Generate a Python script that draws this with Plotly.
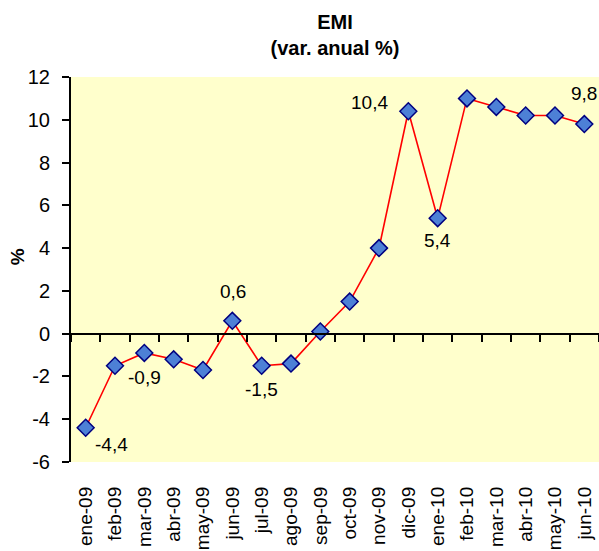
import plotly.graph_objects as go

months = ["ene-09", "feb-09", "mar-09", "abr-09", "may-09", "jun-09", "jul-09",
          "ago-09", "sep-09", "oct-09", "nov-09", "dic-09", "ene-10", "feb-10",
          "mar-10", "abr-10", "may-10", "jun-10"]
emi = [-4.4, -1.5, -0.9, -1.2, -1.7, 0.6, -1.5, -1.4, 0.1, 1.5, 4.0, 10.4,
       5.4, 11.0, 10.6, 10.2, 10.2, 9.8]

y_ticks = [-6, -4, -2, 0, 2, 4, 6, 8, 10, 12]
y_tick_text = ["-6", "-4", "-2", "0", "2", "4", "6", "8", "10", "12"]

# labelled points: (month, value text, xshift, yshift)
label_months = ["ene-09", "mar-09", "jun-09", "jul-09", "dic-09", "ene-10", "jun-10"]
label_texts = ["-4,4", "-0,9", "0,6", "-1,5", "10,4", "5,4", "9,8"]
label_dx = [26, 0, 1, 0, -39, 0, 0]
label_dy = [-17, -25, 29, -24, 9, -22, 31]

FONT = "Arial, Liberation Sans, sans-serif"

fig = go.Figure()

# invisible copy on the zero-line axis so that axis gets its categories
fig.add_trace(go.Scatter(
    x=months, y=emi, xaxis="x2", mode="lines", opacity=0,
    hoverinfo="skip", showlegend=False))

fig.add_trace(go.Scatter(
    x=months, y=emi, mode="lines+markers",
    line=dict(color="#FF0000", width=1.6),
    marker=dict(symbol="diamond", size=13, color="#4D80D6",
                line=dict(color="#000080", width=1.5)),
    showlegend=False, name="EMI"))

annotations = []
for m, t, dx, dy in zip(label_months, label_texts, label_dx, label_dy):
    v = emi[months.index(m)]
    annotations.append(dict(x=m, y=v, xref="x", yref="y", text=t, showarrow=False,
                            xshift=dx, yshift=dy,
                            font=dict(family=FONT, size=19, color="black")))

annotations.append(dict(x=-0.102, y=0.532, xref="paper", yref="paper", text="<b>%</b>",
                        textangle=-90, showarrow=False, xanchor="center", yanchor="middle",
                        font=dict(family=FONT, size=19, color="black")))

fig.update_layout(
    width=599, height=551,
    margin=dict(l=71, r=0, t=77, b=89),
    paper_bgcolor="white",
    plot_bgcolor="#FFFFCC",
    title=dict(text="<b>EMI</b><br><b>(var. anual %)</b>",
               x=0.5, xref="paper", xanchor="center",
               y=1 - 29 / 551, yref="container", yanchor="top",
               font=dict(family=FONT, size=20, color="black")),
    font=dict(family=FONT, color="black"),
    annotations=annotations,
    xaxis=dict(type="category", categoryorder="array", categoryarray=months,
               range=[-0.5, len(months) - 0.5],
               showline=False, ticks="", showgrid=False, zeroline=False,
               tickangle=-90, tickfont=dict(family=FONT, size=19, color="black"),
               ticklabelstandoff=20, automargin=False),
    xaxis2=dict(type="category", categoryorder="array", categoryarray=months,
                overlaying="x", anchor="free", position=1 / 3,
                range=[-0.5, len(months) - 0.5],
                showline=True, linecolor="black", linewidth=2,
                ticks="outside", tickson="boundaries", ticklen=7, tickwidth=1.5,
                tickcolor="black", showticklabels=False, showgrid=False,
                zeroline=False),
    yaxis=dict(range=[-6, 12], tickvals=y_ticks, ticktext=y_tick_text,
               showline=True, linecolor="black",
               linewidth=2, ticks="outside", ticklen=7, tickwidth=1.5,
               tickcolor="black", showgrid=False, zeroline=False,
               tickfont=dict(family=FONT, size=20, color="black"),
               ticklabelstandoff=8, automargin=False),
)

fig.write_html("out.html", config={"displayModeBar": False},
               post_script="document.body.style.margin='0';document.body.style.overflow='hidden';")
